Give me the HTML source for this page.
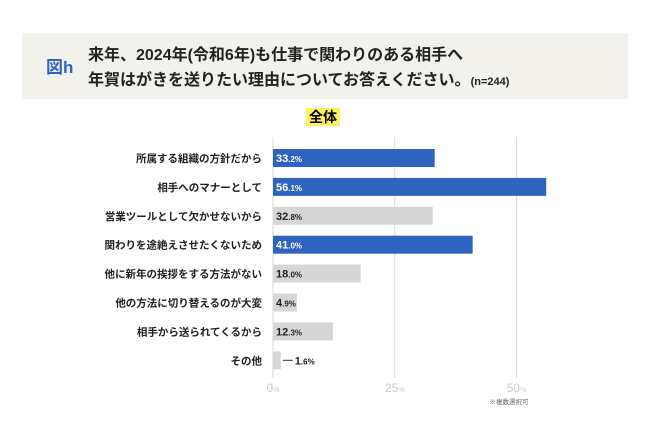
<!DOCTYPE html>
<html><head><meta charset="utf-8"><style>
body{margin:0;background:#fff;font-family:"Liberation Sans","Noto Sans CJK JP",sans-serif;}
#wrap{position:relative;width:650px;height:434px;overflow:hidden;}
.hdr{position:absolute;left:22px;top:33px;width:606px;height:66px;background:#f3f1ec;}
.fig{position:absolute;left:24px;top:20px;color:#2f63c0;font-weight:bold;font-size:17px;}
.t{position:absolute;left:66px;font-weight:bold;font-size:16px;color:#222;white-space:nowrap;}
.ttl{position:absolute;left:306px;top:108px;background:#fff25a;font-weight:bold;font-size:14px;padding:0 3px;line-height:18px;}
</style></head><body><div id="wrap">
<div class="hdr">
<div class="fig">図h</div>
<div class="t" style="top:8px">来年、2024年(令和6年)も仕事で関わりのある相手へ</div>
<div class="t" style="top:33px">年賀はがきを送りたい理由についてお答えください。<span style="font-size:11px">(n=244)</span></div>
</div>
<div class="ttl">全体</div>
<svg id="svg" width="650" height="434" style="position:absolute;left:0;top:0"></svg>
</div>
<script>
const categories=["所属する組織の方針だから","相手へのマナーとして","営業ツールとして欠かせないから","関わりを途絶えさせたくないため","他に新年の挨拶をする方法がない","他の方法に切り替えるのが大変","相手から送られてくるから","その他"];
const values=[33.2,56.1,32.8,41.0,18.0,4.9,12.3,1.6];
const highlight=[true,true,false,true,false,false,false,false];
const ticks=[0,25,50];
const NS="http://www.w3.org/2000/svg",svg=document.getElementById('svg');
const x0=273,scale=4.87,y0=158,step=28.9,bh=18;
const xs=v=>x0+v*scale, ys=i=>y0+i*step;
function mk(t,a,txt){const e=document.createElementNS(NS,t);for(const k in a)e.setAttribute(k,a[k]);if(txt!=null)e.textContent=txt;svg.appendChild(e);return e;}
ticks.forEach(t=>{
const g=mk('line',{x1:xs(t),x2:xs(t),y1:137,y2:378,stroke:'#d9d9d9','stroke-width':1});


const l=mk('text',{x:xs(t),y:392,'text-anchor':'middle','font-size':12,fill:'#ccc','font-family':'Liberation Sans, sans-serif'});
l.innerHTML=t+'<tspan font-size="7">%</tspan>';


});
categories.forEach((c,i)=>{
const y=ys(i);
const lab=mk('text',{x:262,y:y+4,'text-anchor':'end','font-size':10.5,fill:'#222','font-weight':'bold','font-family':'Liberation Sans, Noto Sans CJK JP, sans-serif'},c);


const b=mk('rect',{x:x0,y:y-bh/2,width:values[i]*scale,height:bh,fill:highlight[i]?'#2f63c0':'#d6d6d6'});


const small=values[i]<3;
const vx=small?xs(values[i])+14:x0+3;
if(small){const ln=mk('line',{x1:xs(values[i])+2,x2:xs(values[i])+12,y1:y,y2:y,stroke:'#333','stroke-width':1});}
const s=values[i].toFixed(1).split('.');
const vt=mk('text',{x:vx,y:y+4,'font-size':11,'font-weight':'bold',fill:highlight[i]?'#fff':'#222','font-family':'Liberation Sans, sans-serif'});
vt.innerHTML=s[0]+'<tspan font-size="8">.'+s[1]+'%</tspan>';


});
const n=mk('text',{x:509,y:404,'text-anchor':'middle','font-size':6.5,fill:'#666','font-family':'Noto Sans CJK JP, sans-serif'},'※複数選択可');


</script></body></html>
